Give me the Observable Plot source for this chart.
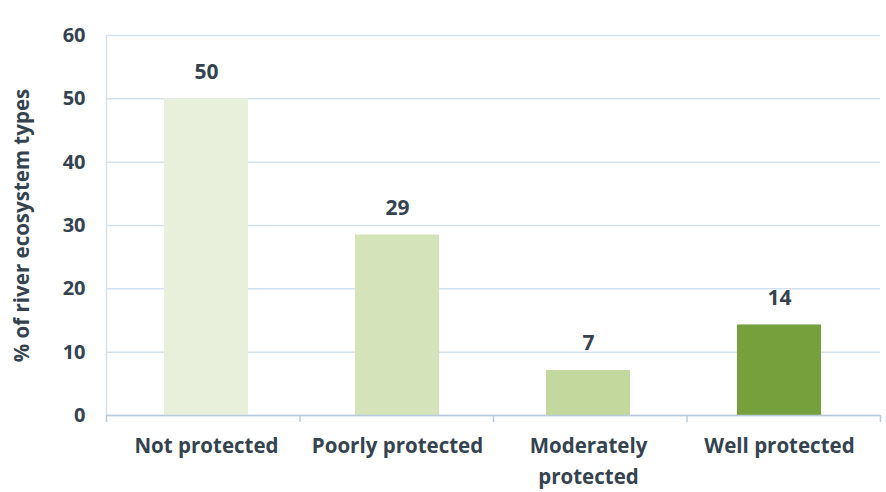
<!DOCTYPE html>
<html>
<head>
<meta charset="utf-8">
<script src="https://cdn.jsdelivr.net/npm/d3@7"></script>
<script src="https://cdn.jsdelivr.net/npm/@observablehq/plot@0.6"></script>
<style>
  html, body { margin: 0; padding: 0; background: #ffffff; }
  #chart { width: 886px; height: 492px; position: relative; }
</style>
</head>
<body>
<div id="chart"></div>
<script>
const categories = ["Not protected", "Poorly protected", "Moderately\nprotected", "Well protected"];
const values = [50, 28.5, 7.1, 14.3];
const valueLabels = ["50", "29", "7", "14"];
const colors = ["#e8efda", "#d5e3bb", "#c2d89c", "#76a03c"];
const yTicks = [0, 10, 20, 30, 40, 50, 60];
const yLabel = "% of river ecosystem types";

const data = categories.map((c, i) => ({cat: c, value: values[i], label: valueLabels[i], color: colors[i]}));

const textColor = "#34434f";
const gridColor = "#d3e2ef";
const axisColor = "#b9cadb";
const dims = {width: 886, height: 492, marginLeft: 106, marginRight: 6, marginTop: 35, marginBottom: 77};

const chart = Plot.plot({
  ...dims,
  style: {fontFamily: "'Open Sans', 'Noto Sans', sans-serif", background: "#ffffff"},
  x: {domain: categories, paddingInner: 0.56, paddingOuter: 0.3, align: 0.5},
  y: {domain: [0, 60]},
  marks: [
    Plot.gridY(yTicks, {stroke: gridColor, strokeOpacity: 1, strokeWidth: 1.5}),
    Plot.barY(data, {x: "cat", y: "value", fill: "color"}),
    Plot.text(data, {x: "cat", y: "value", text: "label", dy: -27, fill: textColor, fontSize: 21, fontWeight: "bold"}),
    Plot.axisY(yTicks, {tickSize: 0, tickPadding: 21, fontSize: 20, fontWeight: "bold", fill: textColor, label: null}),
    Plot.axisX({tickSize: 0, tickPadding: 16, fontSize: 20.5, fontWeight: "bold", fill: textColor, label: null, lineHeight: 1.5}),
    Plot.axisY([], {label: yLabel, labelAnchor: "center", labelArrow: "none", labelOffset: 92, fontSize: 20.5, fontWeight: "bold", fill: textColor, tickSize: 0})
  ]
});

const host = document.getElementById("chart");
host.appendChild(chart);

// overlay: axis lines and boundary tick marks, sharing the same frame
const edges = d3.range(categories.length + 1);
const overlay = Plot.plot({
  ...dims,
  x: {domain: [0, categories.length]},
  y: {domain: [0, 60]},
  axis: null,
  style: {background: "transparent"},
  marks: [
    Plot.ruleX([0], {y1: 0, y2: 60, stroke: gridColor, strokeWidth: 1.5}),
    Plot.ruleY([0], {stroke: axisColor, strokeWidth: 1.5}),
    Plot.ruleX(edges, {x: d => d, y1: 0, y2: 0, insetBottom: -7, stroke: axisColor, strokeWidth: 1.5})
  ]
});
overlay.style.position = "absolute";
overlay.style.left = "0px";
overlay.style.top = "0px";
host.appendChild(overlay);
</script>
</body>
</html>
